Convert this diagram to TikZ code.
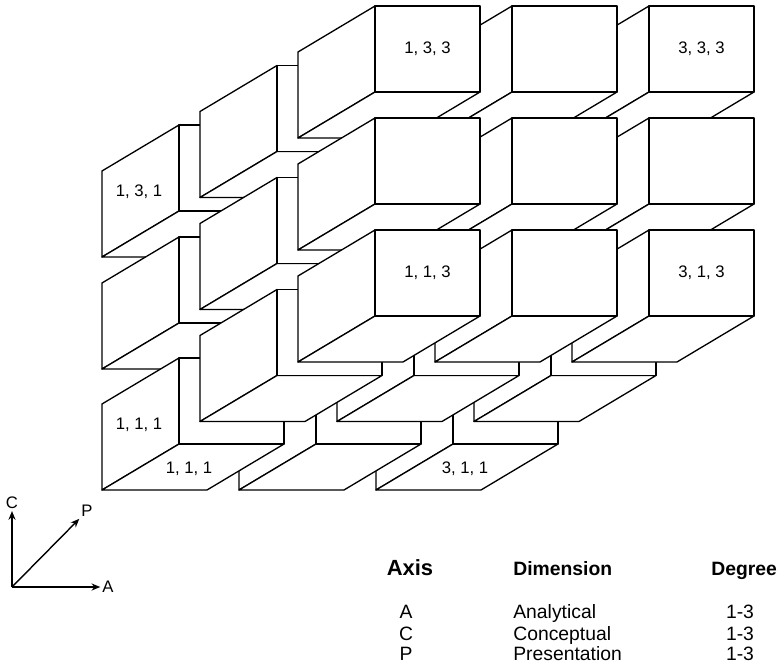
\documentclass[tikz,border=0pt]{standalone}
\usepackage{fontspec}
\setmainfont{Liberation Sans}
\usetikzlibrary{arrows.meta}
\tikzset{face/.style = {draw, fill = white, line width = 0.75pt, line join = round}}
\tikzset{tag/.style = {font = \fontsize{9.5}{11}\selectfont, inner sep = 1pt}}
\tikzset{head/.style = {font = \fontsize{11}{13}\selectfont\bfseries, inner sep = 0}}
\tikzset{row/.style = {font = \fontsize{11}{13}\selectfont, inner sep = 0}}
\tikzset{axarrow/.style = {line width = 0.8pt, -{Stealth[length = 5pt, width = 4pt]}}}

\begin{document}
\begin{tikzpicture}[x = 0.02cm, y = -0.02cm]
      \useasboundingbox (0, 0) rectangle (779, 663);

      % back layer first, then top to bottom, right to left
      \foreach \p in {1, 2, 3} {
        \foreach \c in {3, 2, 1} {
          \foreach \a in {3, 2, 1} {
            \pgfmathsetmacro{\fx}{375 + 137*(\a-1) + 98*(\p-3)}
            \pgfmathsetmacro{\fy}{6 + 112*(3-\c) + 59.5*(3-\p) + 9*(\c==1)*(\p==1)}
            \coordinate (c\a\c\p) at (\fx, \fy);
            \draw [face] (c\a\c\p) -- ++(0, 86) -- ++(-77, 46) -- ++(0, -86) -- cycle;
            \draw [face] (c\a\c\p) ++(0, 86) -- ++(105, 0) -- ++(-77, 46) -- ++(-105, 0) -- cycle;
            \draw [face] (c\a\c\p) rectangle ++(105, 86);
          }
        }
      }

      \node [tag] (t133) at ([shift = {(52.5, 43)}] c133) {1, 3, 3};
      \node [tag] (t333) at ([shift = {(52.5, 43)}] c333) {3, 3, 3};
      \node [tag] (t113) at ([shift = {(52.5, 43)}] c113) {1, 1, 3};
      \node [tag] (t313) at ([shift = {(52.5, 43)}] c313) {3, 1, 3};
      \node [tag] (t131) at ([shift = {(-40, 67)}] c131) {1, 3, 1};
      \node [tag] (t111) at ([shift = {(-40, 67)}] c111) {1, 1, 1};
      \node [tag] (b111) at ([shift = {(10, 111)}] c111) {1, 1, 1};
      \node [tag] (b311) at ([shift = {(12, 111)}] c311) {3, 1, 1};

      % axes
      \coordinate (orig) at (12, 587);
      \node [tag] (axC) at (12, 503) {C};
      \node [tag] (axP) at (87, 511) {P};
      \node [tag] (axA) at (108, 587) {A};
      \draw [axarrow] (orig) -- (axC);
      \draw [axarrow] (orig) -- (axP);
      \draw [axarrow] (orig) -- (axA);

      % legend
      \node [head, font = \fontsize{12.5}{14}\selectfont\bfseries, anchor = base] (hAxis) at (410, 575) {Axis};
      \node [head, anchor = base west] (hDim) at (513, 575) {Dimension};
      \node [head, anchor = base west] (hDeg) at (711, 575) {Degree};
      \foreach \ax/\dim/\y in {A/Analytical/618, C/Conceptual/640, P/Presentation/660} {
        \node [row, anchor = base] (r\ax) at (406, \y) {\ax};
        \node [row, anchor = base west] (d\ax) at (513, \y) {\dim};
        \node [row, anchor = base] (g\ax) at (740, \y) {1-3};
      }
    \end{tikzpicture}
\end{document}
